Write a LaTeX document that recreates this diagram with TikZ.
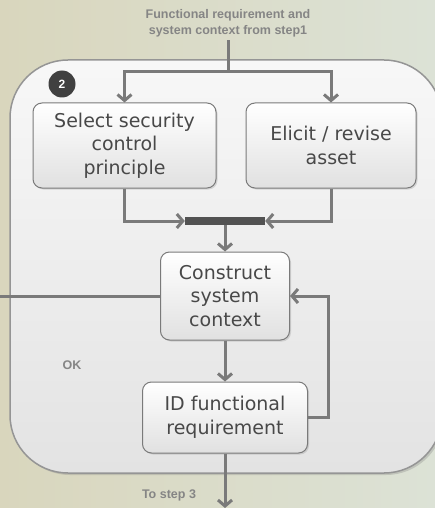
\documentclass[tikz,border=0pt]{standalone}
\usepackage{fontspec}
\setmainfont{DejaVu Sans}
\newfontfamily\labelfont{Liberation Sans}
\usetikzlibrary{arrows.meta,shadows}
\definecolor{flowgray}{HTML}{7A7A7A}
\definecolor{textgray}{HTML}{484848}
\definecolor{notegray}{HTML}{858585}
\definecolor{bgleft}{HTML}{D9D6BD}
\definecolor{bgright}{HTML}{DCE2D6}
\begin{document}
\begin{tikzpicture}[x=1pt,y=-1pt,
  stepbox/.style={draw=flowgray, line width=1pt, rounded corners=9pt, top color=white, bottom color=white!88!black,
    align=center, text=textgray, font=\fontsize{19}{23.5}\selectfont, inner sep=0pt, drop shadow={opacity=.25, shadow xshift=1.5pt, shadow yshift=-1.5pt}},
  note/.style={text=notegray, font=\labelfont\fontsize{12.5}{16}\selectfont\bfseries, align=center},
  flow/.style={draw=flowgray, line width=3pt, -{Straight Barb[length=6pt, width=14pt]}},
  wire/.style={draw=flowgray, line width=3pt}]
\useasboundingbox (0,0) rectangle (435,508);
\begin{scope}
\clip (0,0) rectangle (435,508);
\shade[left color=bgleft, right color=bgright] (0,0) rectangle (435,508);
\path[draw=flowgray!80, line width=1.5pt, rounded corners=58pt, top color=white!97!black, bottom color=white!89!black,
  drop shadow={opacity=.3, shadow xshift=2pt, shadow yshift=-2pt}] (10,60) rectangle (442,473);
\end{scope}
\node[circle, fill=black!75, text=white, font=\labelfont\fontsize{12}{14}\selectfont\bfseries, minimum size=27pt, inner sep=0pt] (num) at (62,84) {2};
\node[note] (src) at (228,23) {Functional requirement and\\system context from step1};
\coordinate (split) at (228,72);
\node[stepbox, minimum width=183pt, minimum height=85pt] (sel) at (124.5,145.5) {Select security\\control\\principle};
\node[stepbox, minimum width=170pt, minimum height=85pt] (eli) at (331,145.5) {Elicit / revise\\asset};
\node[fill=black!68, minimum width=80pt, minimum height=8pt, inner sep=0pt] (join) at (225,221) {};
\node[stepbox, minimum width=129pt, minimum height=88pt] (ctx) at (225,296) {Construct\\system\\context};
\node[stepbox, minimum width=165pt, minimum height=71pt] (idf) at (225,417.5) {ID functional\\requirement};
\node[note] (ok) at (72,365) {OK};
\node[note] (next) at (169,495) {To step 3};
\coordinate (left) at (0,296);
\coordinate (loop) at (328,417.5);
\coordinate (out) at (225,508);
\draw[wire] (src.south) -- (split);
\draw[flow] (split) -| (sel.north);
\draw[flow] (split) -| (eli.north);
\draw[flow] (sel.south) |- (join.west);
\draw[flow] (eli.south) |- (join.east);
\draw[flow] (join) -- (ctx);
\draw[wire] (left) -- (ctx.west);
\draw[flow] (ctx) -- (idf);
\draw[flow] (idf.east) -- (loop) |- (ctx.east);
\draw[flow] (idf) -- (out);
\end{tikzpicture}
\end{document}
